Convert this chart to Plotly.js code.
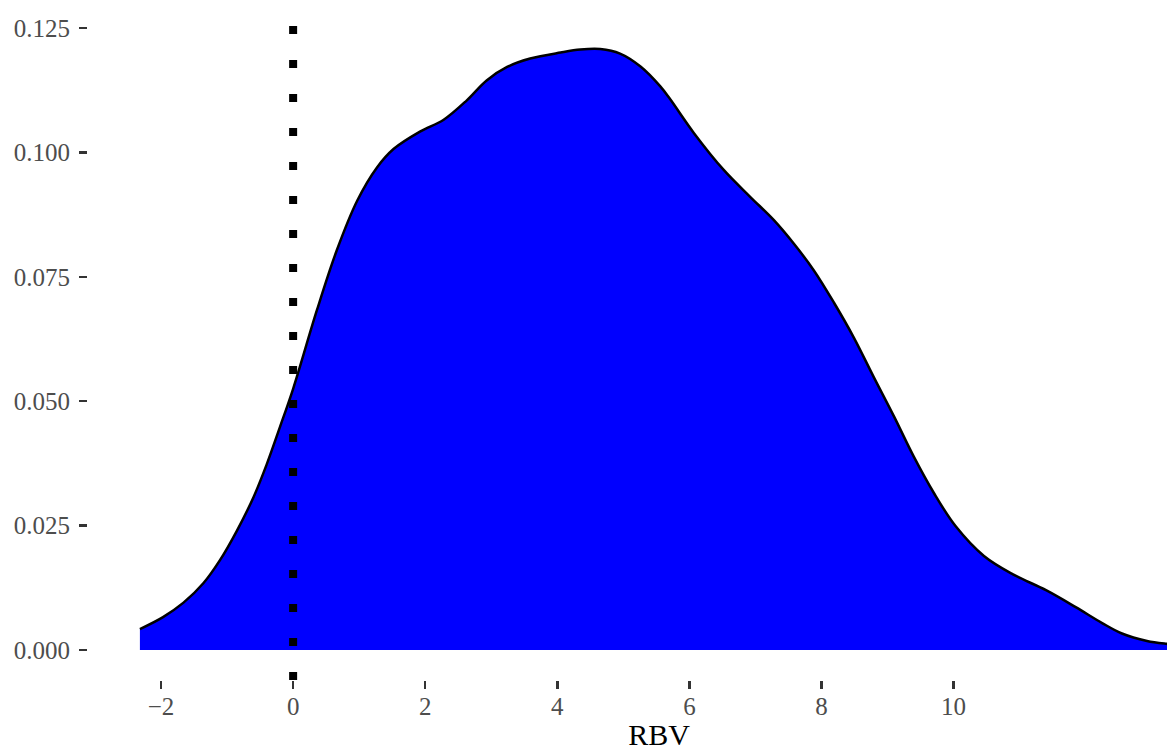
<!DOCTYPE html>
<html>
<head>
<meta charset="utf-8">
<script src="https://cdn.plot.ly/plotly-3.0.1.min.js"></script>
<style>
  html, body { margin: 0; padding: 0; background: #ffffff; }
  #wrap { width: 1167px; height: 751px; overflow: hidden; position: relative; }
  #chart { width: 1230px; height: 751px; }
</style>
</head>
<body>
<div id="wrap"><div id="chart"></div></div>
<script>
// Density estimate of RBV
const rbvX = [-2.32, -1.97, -1.66, -1.36, -1.11, -0.85, -0.60, -0.40, -0.20, 0.00, 0.36, 0.66,
  0.97, 1.27, 1.52, 1.92, 2.28, 2.63, 2.93, 3.24, 3.59, 4.05, 4.35, 4.65, 4.95, 5.26, 5.56,
  5.71, 6.07, 6.52, 6.92, 7.28, 7.58, 7.88, 8.19, 8.49, 8.79, 9.10, 9.40, 9.70, 10.03, 10.46,
  10.90, 11.40, 11.85, 12.25, 12.55, 12.93, 13.24, 13.40];
const rbvDensity = [0.0042, 0.0066, 0.0095, 0.0134, 0.0180, 0.0240, 0.0307, 0.0373, 0.0448,
  0.0525, 0.0683, 0.0803, 0.0903, 0.0970, 0.1007, 0.1042, 0.1066, 0.1105, 0.1145, 0.1172,
  0.1189, 0.1201, 0.1207, 0.1208, 0.1199, 0.1173, 0.1133, 0.1107, 0.1039, 0.0965, 0.0911,
  0.0864, 0.0817, 0.0764, 0.0698, 0.0628, 0.0549, 0.0469, 0.0388, 0.0316, 0.0249, 0.0189,
  0.0152, 0.0120, 0.0086, 0.0054, 0.0033, 0.0018, 0.0012, 0.0010];
const refLineX = 0;
const xTickVals = [-2, 0, 2, 4, 6, 8, 10];
const xTickText = ['\u22122', '0', '2', '4', '6', '8', '10'];
const yTickVals = [0, 0.025, 0.05, 0.075, 0.1, 0.125];
const yTickText = ['0.000', '0.025', '0.050', '0.075', '0.100', '0.125'];

const trace = {
  x: rbvX,
  y: rbvDensity,
  type: 'scatter',
  mode: 'lines',
  fill: 'tozeroy',
  fillcolor: '#0000FF',
  line: { color: '#000000', width: 2.5, shape: 'spline', smoothing: 1 },
  hoverinfo: 'skip',
  showlegend: false
};

const serif = '"Liberation Serif", "Times New Roman", Times, serif';
const tickFont = { family: serif, size: 25, color: '#4D4D4D' };

const layout = {
  width: 1230,
  height: 751,
  margin: { l: 88, r: 0, t: 18, b: 71 },
  paper_bgcolor: '#ffffff',
  plot_bgcolor: '#ffffff',
  showlegend: false,
  xaxis: {
    range: [-3.106, 14.186],
    tickmode: 'array',
    tickvals: xTickVals,
    ticktext: xTickText,
    ticks: 'outside',
    ticklen: 8,
    tickwidth: 2.5,
    tickcolor: '#333333',
    tickfont: tickFont,
    ticklabelstandoff: -4,
    showgrid: false,
    zeroline: false,
    showline: false,
    title: { text: 'RBV', font: { family: serif, size: 30, color: '#000000' }, standoff: 6 }
  },
  yaxis: {
    range: [-0.00605, 0.12705],
    tickmode: 'array',
    tickvals: yTickVals,
    ticktext: yTickText,
    ticks: 'outside',
    ticklen: 8,
    tickwidth: 2.5,
    tickcolor: '#333333',
    tickfont: tickFont,
    ticklabelstandoff: 4,
    showgrid: false,
    zeroline: false,
    showline: false
  },
  shapes: [{
    type: 'line',
    xref: 'x', yref: 'paper',
    x0: refLineX, x1: refLineX, y0: 0, y1: 1,
    line: { color: '#000000', width: 8, dash: '8px,26px' },
    layer: 'above'
  }]
};

Plotly.newPlot('chart', [trace], layout, { displayModeBar: false, staticPlot: true });
</script>
</body>
</html>
